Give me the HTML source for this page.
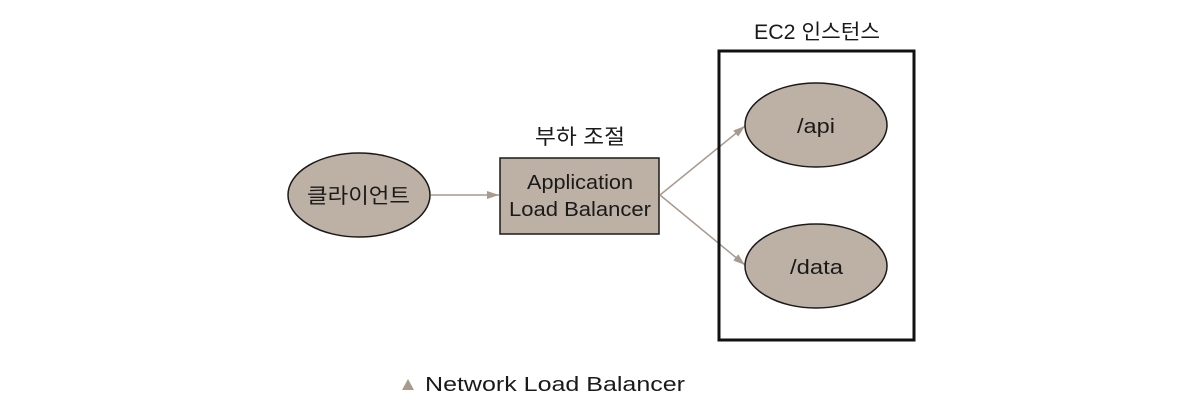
<!DOCTYPE html>
<html><head><meta charset="utf-8"><style>
html,body{margin:0;padding:0;background:#fff;}
svg{display:block;}
text{font-family:"Liberation Sans","Noto Sans CJK KR",sans-serif;fill:#1a1a1a;}
</style></head><body>
<svg width="1192" height="418" viewBox="0 0 1192 418" xmlns="http://www.w3.org/2000/svg">
<defs>
<marker id="ah" markerWidth="12" markerHeight="8" refX="12" refY="4" orient="auto" markerUnits="userSpaceOnUse">
<path d="M0,0 L12,4 L0,8 Z" fill="#a99a8e"/>
</marker>
</defs>
<rect x="0" y="0" width="1192" height="418" fill="#fff"/>
<ellipse cx="359" cy="195" rx="71" ry="42" fill="#bdb1a5" stroke="#1a1a1a" stroke-width="1.5"/>
<text x="307" y="203" font-size="21" textLength="103" lengthAdjust="spacingAndGlyphs">클라이언트</text>
<line x1="431" y1="195" x2="499" y2="195" stroke="#a99a8e" stroke-width="1.5" marker-end="url(#ah)"/>
<text x="535" y="144" font-size="21" textLength="90" lengthAdjust="spacingAndGlyphs">부하 조절</text>
<rect x="500" y="158" width="159" height="76" fill="#bdb1a5" stroke="#1a1a1a" stroke-width="1.5"/>
<text x="527" y="189" font-size="20" textLength="106" lengthAdjust="spacingAndGlyphs">Application</text>
<text x="509" y="216" font-size="20" textLength="142" lengthAdjust="spacingAndGlyphs">Load Balancer</text>
<line x1="660" y1="195" x2="745" y2="126" stroke="#a99a8e" stroke-width="1.5" marker-end="url(#ah)"/>
<line x1="660" y1="195" x2="745" y2="265" stroke="#a99a8e" stroke-width="1.5" marker-end="url(#ah)"/>
<text x="754" y="39" font-size="21" textLength="126" lengthAdjust="spacingAndGlyphs">EC2 인스턴스</text>
<rect x="719" y="51" width="195" height="289" fill="none" stroke="#111" stroke-width="3"/>
<ellipse cx="816" cy="125" rx="71" ry="42" fill="#bdb1a5" stroke="#1a1a1a" stroke-width="1.5"/>
<text x="797" y="133" font-size="20" textLength="38" lengthAdjust="spacingAndGlyphs">/api</text>
<ellipse cx="816" cy="266" rx="71" ry="42" fill="#bdb1a5" stroke="#1a1a1a" stroke-width="1.5"/>
<text x="790" y="274" font-size="20" textLength="53" lengthAdjust="spacingAndGlyphs">/data</text>
<path d="M402,390 L408,379 L414,390 Z" fill="#a99a8e"/>
<text x="425" y="391" font-size="20" textLength="260" lengthAdjust="spacingAndGlyphs">Network Load Balancer</text>
</svg>
</body></html>
